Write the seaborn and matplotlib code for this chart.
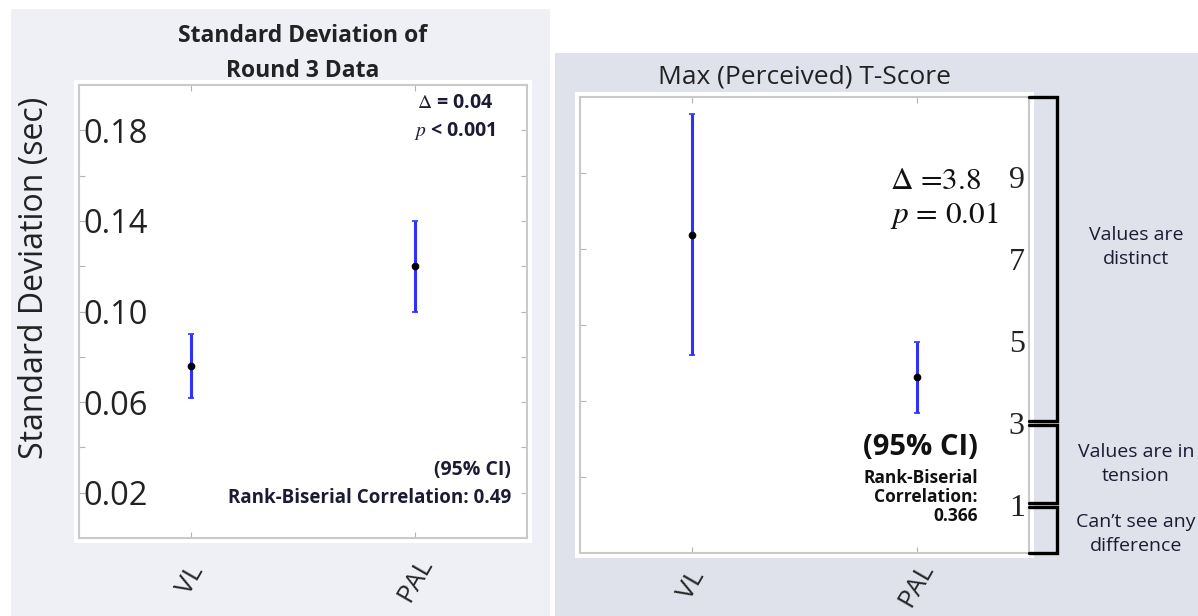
import numpy as np
import pandas as pd
import matplotlib
matplotlib.use("Agg")
import matplotlib.pyplot as plt
import matplotlib.transforms as mtransforms
from matplotlib.patches import Rectangle
import seaborn as sns

# Values (means with 95% CI)
groups = ["VL", "PAL"]

sd_mean = [0.076, 0.120]
sd_lo = [0.062, 0.100]
sd_hi = [0.090, 0.140]

t_mean = [7.38, 3.62]
t_lo = [4.20, 2.68]
t_hi = [10.55, 4.54]

sd_ticks = [0.02, 0.04, 0.06, 0.08, 0.10, 0.12, 0.14, 0.16, 0.18]
sd_tick_labels = ["0.02", "", "0.06", "", "0.10", "", "0.14", "", "0.18"]
t_ticks = [1, 3, 5, 7, 9]
t_tick_labels = ["1", "3", "5", "7", "9"]

# perceived-score categories (boundaries on the printed 1..9 scale)
band_edges = [3, 1]
band_names = ["Values are\ndistinct", "Values are in\ntension", "Can\u2019t see any\ndifference"]

W, H = 1198, 616
BLUE = "#2f2fff"
FRAME = "#c9c9c9"
TEXT = "#1b1b33"


def px_box(x0, y0, x1, y1):
    # pixel box (top-left origin) -> figure fraction [l, b, w, h]
    return [x0 / W, 1 - y1 / H, (x1 - x0) / W, (y1 - y0) / H]


def ci_panel(ax, mean, lo, hi):
    df = pd.DataFrame({"group": groups, "mean": mean, "lo": lo, "hi": hi})
    yerr = [df["mean"] - df["lo"], df["hi"] - df["mean"]]
    ax.errorbar(x=np.arange(len(df)), y=df["mean"], yerr=yerr, fmt="none",
                ecolor=BLUE, elinewidth=2.2, capsize=2, capthick=1.2)
    sns.pointplot(data=df, x="group", y="mean", order=groups, color="black",
                  linestyle="none", markersize=3.5, errorbar=None, ax=ax)
    ax.set_xlim(-0.5, len(groups) - 0.5)
    ax.set_xlabel("")
    ax.set_ylabel("")
    ax.set_facecolor("white")
    for s in ax.spines.values():
        s.set_visible(True)
        s.set_color(FRAME)
        s.set_linewidth(1.5)


sns.set_style("white")
plt.rcParams["font.family"] = ["Open Sans", "DejaVu Sans"]
plt.rcParams["mathtext.fontset"] = "stix"

fig = plt.figure(figsize=(W / 100, H / 100), dpi=100)
fig.patch.set_facecolor("white")

# panel backgrounds (behind the axes)
fig.patches.append(Rectangle((11 / W, 0), 539 / W, 607 / H, transform=fig.transFigure,
                             facecolor="#eef0f6", edgecolor="none", zorder=-3))
fig.patches.append(Rectangle((555 / W, 0), 643 / W, 563 / H, transform=fig.transFigure,
                             facecolor="#dfe2eb", edgecolor="none", zorder=-3))
for b in [px_box(74, 80, 532, 543), px_box(575, 92, 1034, 558)]:
    fig.patches.append(Rectangle((b[0], b[1]), b[2], b[3], transform=fig.transFigure,
                                 facecolor="white", edgecolor="none", zorder=-2))

# ---------------- left panel ----------------
ax1 = fig.add_axes(px_box(79, 85, 527, 538))
ci_panel(ax1, sd_mean, sd_lo, sd_hi)
ax1.set_ylim(0, 0.2)
ax1.set_yticks(sd_ticks)
ax1.set_yticklabels(sd_tick_labels, fontsize=23.5, ha="left", color="#222222")
ax1.tick_params(axis="y", direction="in", left=True, right=True, length=4,
                color="#b5b5b5", pad=-3)
ax1.tick_params(axis="x", direction="in", top=True, bottom=True, length=4,
                color="#b5b5b5", pad=30)
ax1.set_xticks(range(len(groups)))
ax1.set_xticklabels(groups, rotation=60, fontsize=19, ha="center", va="center")
ax1.set_ylabel("Standard Deviation (sec)", fontsize=23, color="#222222")
ax1.yaxis.set_label_coords(-0.062, 0.575)
ax1.set_title("Standard Deviation of\nRound 3 Data", fontsize=16.5, fontweight="bold",
              linespacing=1.6, pad=6, color="#222222")

ax1.text(0.839, 0.960, r"$\Delta$ = 0.04", transform=ax1.transAxes, ha="center",
         va="center", fontsize=14, fontweight="bold", color=TEXT)
ax1.text(0.839, 0.898, r"$p$ < 0.001", transform=ax1.transAxes, ha="center",
         va="center", fontsize=14, fontweight="bold", color=TEXT)
ax1.text(0.964, 0.150, "(95% CI)", transform=ax1.transAxes, ha="right",
         va="center", fontsize=14, fontweight="bold", color=TEXT)
ax1.text(0.964, 0.088, "Rank-Biserial Correlation: 0.49", transform=ax1.transAxes,
         ha="right", va="center", fontsize=13.5, fontweight="bold", color=TEXT)

# ---------------- right panel ----------------
ax2 = fig.add_axes(px_box(580, 97, 1029, 553))
ci_panel(ax2, t_mean, t_lo, t_hi)
ax2.set_ylim(-1, 11)
ax2.set_yticks(t_ticks)
ax2.set_yticklabels([])
ax2.tick_params(axis="y", direction="in", left=True, right=True, length=4,
                color="#b5b5b5")
ax2.tick_params(axis="x", direction="in", top=True, bottom=True, length=4,
                color="#b5b5b5", pad=23)
ax2.set_xticks(range(len(groups)))
ax2.set_xticklabels(groups, rotation=60, fontsize=19, ha="center", va="center")
ax2.set_title("Max (Perceived) T-Score", fontsize=19, pad=10, color="#222222")

ax2.text(0.690, 0.814, r"$\Delta$ =3.8", transform=ax2.transAxes, ha="left",
         va="center", fontsize=22.5, family="STIXGeneral", color="#111111")
ax2.text(0.690, 0.741, r"$p$ = 0.01", transform=ax2.transAxes, ha="left",
         va="center", fontsize=22.5, family="STIXGeneral", color="#111111")
ax2.text(0.886, 0.232, "(95% CI)", transform=ax2.transAxes, ha="right",
         va="center", fontsize=21, fontweight="bold", color="#111111")
ax2.text(0.886, 0.123, "Rank-Biserial\nCorrelation:\n0.366", transform=ax2.transAxes,
         ha="right", va="center", fontsize=12.5, fontweight="bold", linespacing=1.05,
         multialignment="right", color="#111111")

# printed 1..9 scale with its brackets, on a twin axis
ax2t = ax2.twinx()
ax2t.set_ylim(-0.17, 10.95)
ax2t.set_yticks(t_ticks)
ax2t.set_yticklabels(t_tick_labels, fontsize=23, family="Liberation Serif",
                     ha="right", color="#222222")
ax2t.tick_params(axis="y", length=0, pad=-3)
for s in ax2t.spines.values():
    s.set_visible(False)

lo_lim, hi_lim = ax2t.get_ylim()
edges = [hi_lim] + band_edges + [lo_lim]
trans = mtransforms.blended_transform_factory(ax2t.transAxes, ax2t.transData)
gap = 0.05
text_y = [7.3, 2.0, 0.3]
for i, name in enumerate(band_names):
    top = edges[i] - (gap if i > 0 else 0)
    bot = edges[i + 1] + (gap if i + 1 < len(edges) - 1 else 0)
    ax2t.plot([1.0, 1.062, 1.062, 1.0], [top, top, bot, bot], color="black", lw=2.4,
              transform=trans, clip_on=False, solid_joinstyle="miter")
    ax2t.text(1.238, text_y[i], name, transform=trans, ha="center", va="center",
              fontsize=14, linespacing=1.45, color=TEXT)

fig.savefig("out.png", dpi=100)
